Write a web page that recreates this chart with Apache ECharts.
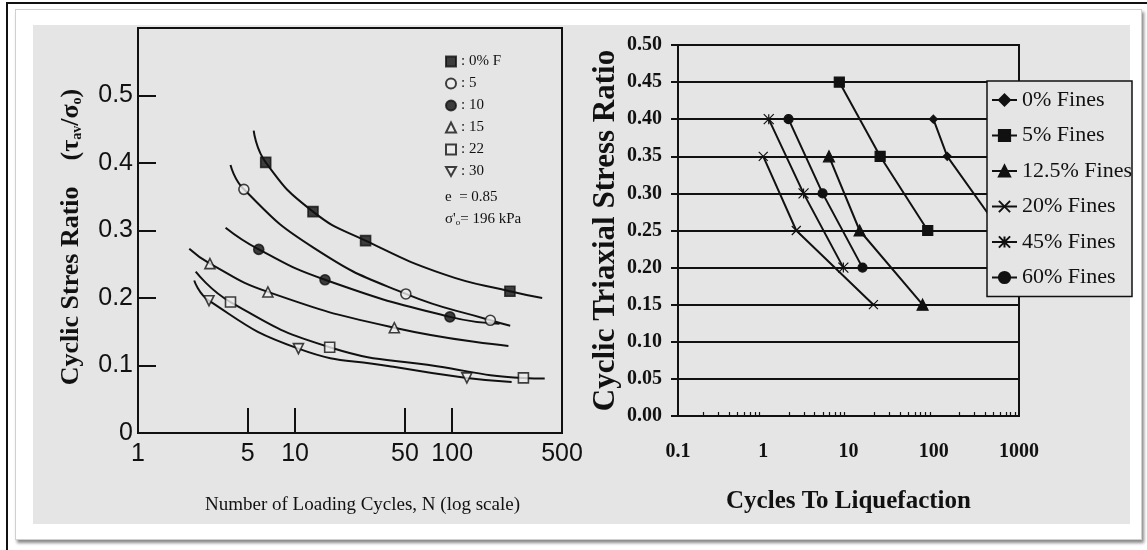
<!DOCTYPE html>
<html>
<head>
<meta charset="utf-8">
<script src="https://cdn.jsdelivr.net/npm/echarts@6/dist/echarts.min.js"></script>
<style>
  html, body { margin: 0; padding: 0; background: #fff; }
  #wrap { position: relative; width: 1147px; height: 550px; overflow: hidden; }
  .edge { position: absolute; left: 6px; top: 2px; width: 1141px; height: 548px;
          border-top: 2px solid #111; border-left: 2px solid #111; box-sizing: border-box; }
  .card { position: absolute; left: 15px; top: 9px; width: 1127px; height: 531px; background: #fff;
          border: 1px solid #d0d0d0; box-shadow: 2px 3px 3px #8a8a8a; box-sizing: border-box; }
  .panel { position: absolute; left: 33px; top: 25px; width: 1097px; height: 499px; background: #e5e5e5; }
  #chart { position: absolute; left: 0; top: 0; width: 1147px; height: 550px; }
</style>
</head>
<body>
<div id="wrap">
  <div class="edge"></div>
  <div class="card"></div>
  <div class="panel"></div>
  <div id="chart"></div>
</div>
<script>
// ---------- Left panel: cyclic stress ratio vs number of loading cycles ----------
const leftNames = ['0% F', '5', '10', '15', '22', '30'];

// measured test points (N, stress ratio)
const ptsF0N   = [6.5, 13.0, 28.1, 233];
const ptsF0CSR = [0.401, 0.328, 0.285, 0.210];
const ptsF5N   = [4.72, 50.7, 175];
const ptsF5CSR = [0.361, 0.206, 0.167];
const ptsF10N   = [5.87, 15.5, 96.7];
const ptsF10CSR = [0.272, 0.227, 0.172];
const ptsF15N   = [2.87, 6.71, 42.8];
const ptsF15CSR = [0.251, 0.209, 0.156];
const ptsF22N   = [3.88, 16.6, 284];
const ptsF22CSR = [0.194, 0.127, 0.0816];
const ptsF30N   = [2.83, 10.5, 124];
const ptsF30CSR = [0.196, 0.125, 0.0816];

// fitted strength curves (N, stress ratio)
const fitF0N   = [5.45, 6.5, 13.0, 28.1, 89, 233, 374];
const fitF0CSR = [0.448, 0.401, 0.328, 0.285, 0.235, 0.210, 0.200];
const fitF5N   = [3.88, 4.72, 13, 50.7, 175, 234];
const fitF5CSR = [0.397, 0.361, 0.275, 0.206, 0.167, 0.159];
const fitF10N   = [3.61, 5.87, 15.5, 96.7, 200];
const fitF10CSR = [0.304, 0.272, 0.227, 0.172, 0.162];
const fitF15N   = [2.12, 2.87, 6.71, 42.8, 228];
const fitF15CSR = [0.273, 0.251, 0.209, 0.156, 0.129];
const fitF22N   = [2.33, 3.88, 16.6, 80, 284, 388];
const fitF22CSR = [0.239, 0.194, 0.127, 0.099, 0.0816, 0.0807];
const fitF30N   = [2.28, 2.83, 10.5, 40, 124, 239];
const fitF30CSR = [0.226, 0.196, 0.125, 0.099, 0.0816, 0.0757];

const leftTickN  = [5, 10, 50, 100];
const leftLabelN = [1, 5, 10, 50, 100, 500];
const leftYLabels = [0, 0.1, 0.2, 0.3, 0.4, 0.5];
const leftYTicks  = [0.1, 0.2, 0.3, 0.4, 0.5];

// ---------- Right panel: cyclic triaxial stress ratio vs cycles to liquefaction ----------
const rightNames = ['0% Fines', '5% Fines', '12.5% Fines', '20% Fines', '45% Fines', '60% Fines'];
const r0N   = [99, 144, 600];
const r0CSR = [0.40, 0.35, 0.25];
const r5N   = [7.8, 23.5, 85];
const r5CSR = [0.45, 0.35, 0.25];
const r12N   = [5.9, 13.5, 74];
const r12CSR = [0.35, 0.25, 0.15];
const r20N   = [1.0, 2.44, 19.6];
const r20CSR = [0.35, 0.25, 0.15];
const r45N   = [1.16, 2.97, 8.7];
const r45CSR = [0.40, 0.30, 0.20];
const r60N   = [1.98, 4.97, 14.6];
const r60CSR = [0.40, 0.30, 0.20];

const rightLabelN = [0.1, 1, 10, 100, 1000];
const rightMinorN = [];
[0.1, 1, 10, 100].forEach(d => { for (let k = 2; k <= 9; k++) rightMinorN.push(d * k); });

// ---------- helpers ----------
const lg = Math.log10;
const INK = '#111';
const pairs = (ns, vs) => ns.map((n, i) => [lg(n), vs[i]]);

const leftPts = [[ptsF0N, ptsF0CSR], [ptsF5N, ptsF5CSR], [ptsF10N, ptsF10CSR],
                 [ptsF15N, ptsF15CSR], [ptsF22N, ptsF22CSR], [ptsF30N, ptsF30CSR]];
const leftFits = [[fitF0N, fitF0CSR], [fitF5N, fitF5CSR], [fitF10N, fitF10CSR],
                  [fitF15N, fitF15CSR], [fitF22N, fitF22CSR], [fitF30N, fitF30CSR]];
const OPEN = '#eeeeee';
const leftMarkers = [
  { symbol: 'rect', size: 10, fill: INK },
  { symbol: 'circle', size: 10, fill: OPEN },
  { symbol: 'circle', size: 10, fill: INK },
  { symbol: 'triangle', size: 10, fill: OPEN },
  { symbol: 'rect', size: 10, fill: OPEN },
  { symbol: 'path://M0,0L10,0L5,9Z', size: 10, fill: OPEN }
];

const rightData = [[r0N, r0CSR], [r5N, r5CSR], [r12N, r12CSR], [r20N, r20CSR], [r45N, r45CSR], [r60N, r60CSR]];
const rightMarkers = [
  { symbol: 'diamond', size: 8 },
  { symbol: 'rect', size: 10 },
  { symbol: 'triangle', size: 11 },
  { symbol: 'path://M0,0L10,10M10,0L0,10', size: 9 },
  { symbol: 'path://M0,0L10,10M10,0L0,10M5,0L5,10', size: 10 },
  { symbol: 'circle', size: 9 }
];

const series = [];
leftNames.forEach((name, i) => {
  const m = leftMarkers[i];
  series.push({
    name: name, type: 'scatter', xAxisIndex: 0, yAxisIndex: 0,
    data: pairs(leftPts[i][0], leftPts[i][1]),
    symbol: m.symbol, symbolSize: m.size,
    itemStyle: { color: m.fill, borderColor: INK, borderWidth: 1.6 },
    z: 4, silent: true
  });
});
leftNames.forEach((name, i) => {
  series.push({
    name: name + ' curve', type: 'line', xAxisIndex: 0, yAxisIndex: 0,
    data: pairs(leftFits[i][0], leftFits[i][1]),
    smooth: 0.5, showSymbol: false, symbol: 'none',
    lineStyle: { color: INK, width: 2 }, z: 3, silent: true
  });
});
rightNames.forEach((name, i) => {
  const m = rightMarkers[i];
  series.push({
    name: name, type: 'line', xAxisIndex: 1, yAxisIndex: 1,
    data: pairs(rightData[i][0], rightData[i][1]),
    symbol: m.symbol, symbolSize: m.size, showSymbol: true,
    itemStyle: { color: INK, borderColor: INK, borderWidth: 1.2 },
    lineStyle: { color: INK, width: 2 }, z: 3, silent: true
  });
});

const serif = "'Liberation Serif', 'Times New Roman', serif";
const sans = "'Liberation Sans', Arial, sans-serif";

const option = {
  animation: false,
  backgroundColor: 'transparent',
  grid: [
    { left: 138, top: 28, width: 424, height: 405, show: true, borderColor: INK, borderWidth: 2, backgroundColor: 'transparent' },
    { left: 678, top: 45, width: 341, height: 371, show: true, borderColor: INK, borderWidth: 2, backgroundColor: 'transparent' }
  ],
  xAxis: [
    {
      type: 'value', gridIndex: 0, min: 0, max: lg(500),
      axisLine: { show: true, onZero: false, lineStyle: { color: INK, width: 2 } },
      axisTick: { show: true, inside: true, length: 25, lineStyle: { color: INK, width: 2 },
                  customValues: leftTickN.map(lg) },
      axisLabel: { customValues: leftLabelN.map(lg), formatter: v => String(Math.round(Math.pow(10, v))),
                   fontFamily: sans, fontSize: 25, color: INK, margin: 9 },
      splitLine: { show: false },
      name: 'Number of Loading Cycles, N (log scale)', nameLocation: 'middle', nameGap: 63,
      nameTextStyle: { fontFamily: serif, fontSize: 19, color: INK, padding: [0, 0, 0, 25] }
    },
    {
      type: 'value', gridIndex: 1, min: -1, max: 3,
      axisLine: { show: true, onZero: false, lineStyle: { color: INK, width: 2 } },
      axisTick: { show: true, inside: true, length: 4, lineStyle: { color: INK, width: 1.2 },
                  customValues: rightMinorN.map(lg) },
      axisLabel: { customValues: rightLabelN.map(lg), formatter: v => String(+Math.pow(10, v).toPrecision(3)),
                   fontFamily: serif, fontWeight: 'bold', fontSize: 20, color: INK, margin: 26 },
      splitLine: { show: false },
      name: 'Cycles To Liquefaction', nameLocation: 'middle', nameGap: 73,
      nameTextStyle: { fontFamily: serif, fontWeight: 'bold', fontSize: 25, color: INK }
    }
  ],
  yAxis: [
    {
      type: 'value', gridIndex: 0, min: 0, max: 0.6,
      axisLine: { show: true, onZero: false, lineStyle: { color: INK, width: 2 } },
      axisTick: { show: true, inside: true, length: 18, lineStyle: { color: INK, width: 2 },
                  customValues: leftYTicks },
      axisLabel: { customValues: leftYLabels, formatter: v => (v === 0 ? '0' : v.toFixed(1)),
                   fontFamily: sans, fontSize: 25, color: INK, margin: 5 },
      splitLine: { show: false },
      name: 'Cyclic Stres Ratio    (τ{s|av}/σ{s|o})', nameLocation: 'middle', nameRotate: 90, nameGap: 54,
      nameTextStyle: { fontFamily: serif, fontWeight: 'bold', fontSize: 26, color: INK, padding: [0, 13, 0, 0],
                       rich: { s: { fontFamily: serif, fontWeight: 'bold', fontSize: 14, color: INK, verticalAlign: 'bottom' } } }
    },
    {
      type: 'value', gridIndex: 1, min: 0, max: 0.5, interval: 0.05,
      axisLine: { show: true, onZero: false, lineStyle: { color: INK, width: 2 } },
      axisTick: { show: true, inside: false, length: 7, lineStyle: { color: INK, width: 2 } },
      axisLabel: { formatter: v => v.toFixed(2), fontFamily: serif, fontWeight: 'bold', fontSize: 20, color: INK, margin: 16 },
      splitLine: { show: true, lineStyle: { color: INK, width: 2 } },
      name: 'Cyclic Triaxial Stress Ratio', nameLocation: 'middle', nameRotate: 90, nameGap: 57,
      nameTextStyle: { fontFamily: serif, fontWeight: 'bold', fontSize: 31, color: INK }
    }
  ],
  legend: [
    {
      data: leftNames, orient: 'vertical', left: 445, top: 54, padding: 0,
      itemWidth: 10, itemHeight: 10, itemGap: 7, selectedMode: false,
      formatter: ': {name}',
      textStyle: { fontFamily: serif, fontSize: 15, lineHeight: 15, color: INK }
    },
    {
      data: rightNames, orient: 'vertical', left: 987, top: 81, padding: [8, 0, 8, 4],
      itemWidth: 25, itemHeight: 14, itemGap: 13.5, selectedMode: false,
      backgroundColor: '#e5e5e5', borderColor: INK, borderWidth: 1.5, borderRadius: 0,
      textStyle: { fontFamily: serif, fontSize: 22, lineHeight: 22, color: INK }
    }
  ],
  graphic: [
    { type: 'text', left: 445, top: 190, silent: true,
      style: { text: 'e  = 0.85', font: "15px 'Liberation Serif'", fill: INK } },
    { type: 'text', left: 445, top: 212, silent: true,
      style: { text: "σ'{s|o}= 196 kPa", font: "15px 'Liberation Serif'", fill: INK,
               rich: { s: { fontSize: 9, fontFamily: 'Liberation Serif', verticalAlign: 'bottom' } } } }
  ],
  series: series
};

const chart = echarts.init(document.getElementById('chart'), null, { renderer: 'canvas' });
chart.setOption(option);
</script>
</body>
</html>
